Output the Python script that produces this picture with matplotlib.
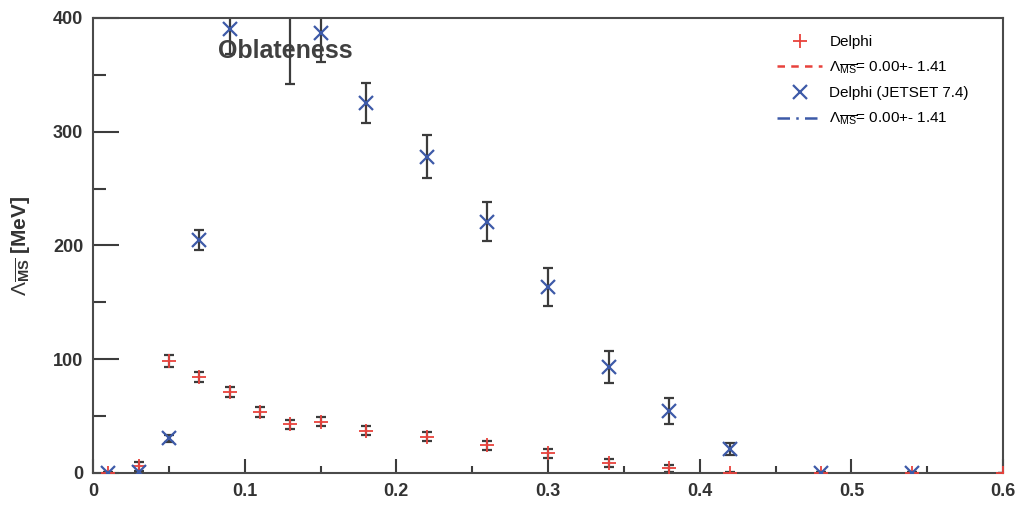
import numpy as np
import matplotlib
matplotlib.use("Agg")
import matplotlib.pyplot as plt
from matplotlib.ticker import FixedLocator, MultipleLocator

plt.rcParams['font.family'] = ['Liberation Sans', 'DejaVu Sans']
plt.rcParams['mathtext.fontset'] = 'custom'
plt.rcParams['mathtext.rm'] = 'Liberation Sans'
plt.rcParams['mathtext.it'] = 'Liberation Sans:italic'
plt.rcParams['mathtext.bf'] = 'Liberation Sans:bold'

# Delphi data (red)
x_delphi = [0.01, 0.03, 0.05, 0.07, 0.09, 0.11, 0.13, 0.15, 0.18, 0.22,
            0.26, 0.30, 0.34, 0.38, 0.42, 0.48, 0.54, 0.60]
lam_delphi = [0, 6, 98.5, 84.5, 71.5, 53.5, 43, 45, 37, 32,
              24.5, 17.5, 9, 4, 0, 0, 0, 0]
err_delphi = [1, 4, 5, 4.5, 4.5, 4.5, 4, 4, 4, 4,
              4, 4, 3.5, 3, 1, 1, 1, 0]

# Delphi (JETSET 7.4) data (blue)
x_jetset = [0.01, 0.03, 0.05, 0.07, 0.09, 0.11, 0.13, 0.15, 0.18, 0.22,
            0.26, 0.30, 0.34, 0.38, 0.42, 0.48, 0.54]
lam_jetset = [0, 1, 30.5, 205, 390, 440, 410, 387, 325, 278,
              221, 163.5, 93.5, 54.5, 21, 0, 0]
err_jetset = [0, 0, 3, 9, 22, 30, 68, 26, 17.5, 19,
              17.5, 16.5, 14, 11, 5.5, 1, 1]

x_ticks = [0, 0.1, 0.2, 0.3, 0.4, 0.5, 0.6]
x_ticklabels = ['0', '0.1', '0.2', '0.3', '0.4', '0.5', '0.6']
y_ticks = [0, 100, 200, 300, 400]
y_ticklabels = ['0', '100', '200', '300', '400']

fit_label = r'$\Lambda_{\overline{\mathrm{MS}}}$= 0.00+- 1.41'

red = '#e8423c'
blue = '#3d5aa8'
grey = '#3c3c3c'

fig = plt.figure(figsize=(10.2, 5.05), dpi=100)
ax = fig.add_axes([0.0912, 0.0634, 0.8922, 0.901])

ax.errorbar(x_delphi, lam_delphi, yerr=err_delphi, fmt='none', ecolor=grey,
            elinewidth=1.6, capsize=3.5, capthick=1.6, zorder=2)
ax.errorbar(x_jetset, lam_jetset, yerr=err_jetset, fmt='none', ecolor=grey,
            elinewidth=1.6, capsize=3.5, capthick=1.6, zorder=2)
ax.plot(x_delphi, lam_delphi, linestyle='none', marker='+', color=red,
        markersize=10, mew=1.3, zorder=3, label='Delphi')
ax.plot([], [], color=red, linestyle=(0, (3, 2.5)), lw=1.8, label=fit_label)
ax.plot(x_jetset, lam_jetset, linestyle='none', marker='x', color=blue,
        markersize=10, mew=1.6, zorder=3, label='Delphi (JETSET 7.4)')
ax.plot([], [], color=blue, linestyle=(0, (5, 2.5, 1, 2.5)), lw=1.8, label=fit_label)

ax.set_xlim(0, 0.6)
ax.set_ylim(0, 400)

ax.xaxis.set_major_locator(FixedLocator(x_ticks))
ax.set_xticklabels(x_ticklabels)
ax.xaxis.set_minor_locator(MultipleLocator(0.05))
ax.yaxis.set_major_locator(FixedLocator(y_ticks))
ax.set_yticklabels(y_ticklabels)
ax.yaxis.set_minor_locator(MultipleLocator(50))

ax.tick_params(axis='x', which='major', direction='in', length=10, width=1.5,
               color=grey, pad=7)
ax.tick_params(axis='x', which='minor', direction='in', length=5, width=1.5,
               color=grey)
ax.tick_params(axis='y', which='major', direction='in', length=19, width=1.5,
               color=grey, pad=7)
ax.tick_params(axis='y', which='minor', direction='in', length=9.5, width=1.5,
               color=grey)
for lab in ax.get_xticklabels() + ax.get_yticklabels():
    lab.set_fontsize(13)
    lab.set_fontweight('bold')
    lab.set_color('#333333')

for sp in ax.spines.values():
    sp.set_color('#4a4a4a')
    sp.set_linewidth(1.5)

ax.set_ylabel(r'$\Lambda_{\overline{\mathbf{MS}}}$ [MeV]', fontsize=15,
              fontweight='bold', color='#333333')
ax.yaxis.set_label_coords(-0.067, 0.5)

ax.text(0.0822, 371, 'Oblateness', fontsize=18, fontweight='bold',
        color='#404040', va='center', ha='left', zorder=5)

ax.legend(loc='upper left', bbox_to_anchor=(0.752, 0.962), frameon=False,
          fontsize=11, handlelength=2.9, handletextpad=0.5, labelspacing=0.68,
          borderaxespad=0, borderpad=0)

fig.savefig('out.png', dpi=100)
